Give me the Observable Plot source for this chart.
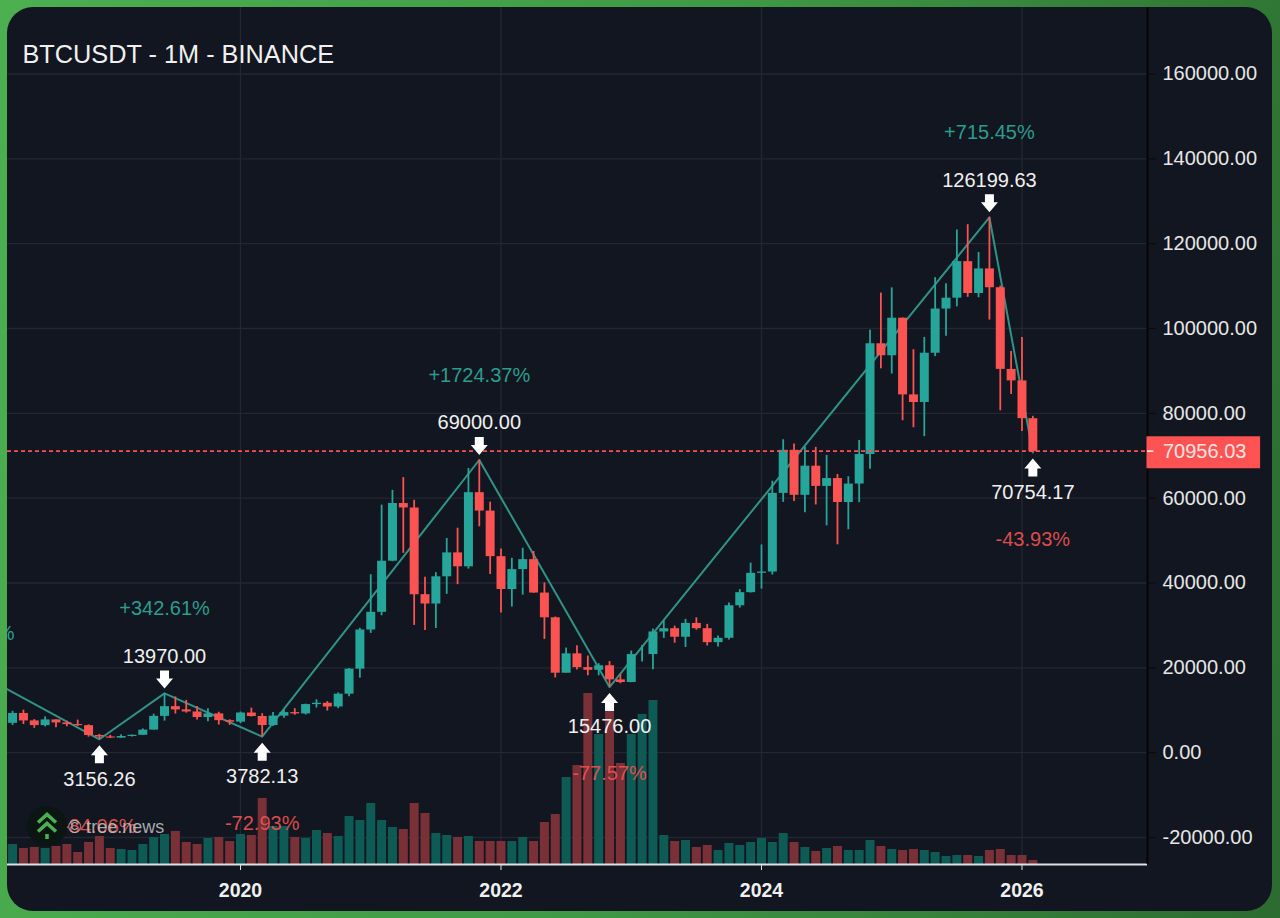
<!DOCTYPE html>
<html><head><meta charset="utf-8">
<script src="https://cdn.jsdelivr.net/npm/d3@7"></script>
<script src="https://cdn.jsdelivr.net/npm/@observablehq/plot@0.6"></script>
<style>
html,body{margin:0;padding:0;width:1280px;height:918px;overflow:hidden}
body{background:linear-gradient(100deg,#4caf50 0%,#3f9a45 50%,#2c6b30 100%);font-family:"Liberation Sans",Arial,sans-serif;position:relative}
#card{position:absolute;left:7px;top:7px;width:1265px;height:904px;border-radius:26px;background:#121620}
#title{position:absolute;left:22.5px;top:39px;line-height:30px;font-size:25.3px;color:#f0f0f0}
#mark{position:absolute;left:0;top:0}
#chart svg{position:absolute;left:0;top:0}
</style></head>
<body>
<div id="card"></div>
<div id="chart"></div>
<div id="title">BTCUSDT - 1M - BINANCE</div>
<svg id="mark" width="1280" height="918">
  <circle cx="47" cy="826" r="20" fill="#0b1512"/>
  <g fill="none" stroke="#4caf50" stroke-width="3.6">
    <path d="M38 822.5 L47 814.5 L56 822.5"/>
    <path d="M38 831.5 L47 823.5 L56 831.5"/>
  </g>
  <rect x="45.2" y="834" width="3.6" height="5" fill="#4caf50"/>
  <text x="68" y="833" font-size="18" fill="#c4c6c8" fill-opacity="0.85" font-family="Liberation Sans">© tree.news</text>
</svg>
<script>
// Monthly candles, first bar = 2018-04, last bar = 2026-02
const firstMonthIndex = -21; // months relative to 2020-01
const opens = [6922,9244,7485,6385,7727,7012,6626,6370,4041,3701,3434,3814,4103,5320,8555,10854,10085,9600,8293,9150,7546,
 7195,9352,8523,6410,8620,9448,9137,11335,11650,10776,13791,19695,
 28923,33092,45134,58739,57697,37253,35045,41461,47100,43820,61299,56950,
 46216,38466,43160,45510,37630,31801,18731,23296,20050,19422,20491,17163,
 16541,23125,23141,28465,29233,27210,30472,29232,25941,26963,34639,37724,
 42283,42580,61130,71280,60672,67540,62772,64628,58973,63327,70292,96407,
 93576,102429,84349,82550,94172,104591,107146,115764,108246,114048,109608,90360,
 87648,78741];
const highs = [9759,10020,7786,8450,7750,7410,7680,6570,4320,4069,4198,4140,5600,9074,13970,13147,12325,10905,10370,9530,7750,
 9575,10500,9188,9460,10067,10380,11444,12468,12050,14100,19863,29300,
 41950,58352,61844,64854,59500,41330,42448,50500,52920,67000,69000,59053,
 47990,45821,48189,47444,40023,31986,24668,25214,22800,20988,21480,18387,
 23960,25250,29184,31000,29820,31431,31804,30244,27483,35280,38450,44700,
 48969,64000,73777,72797,71979,71980,70079,65593,65050,73620,99588,108353,
 109588,102500,95000,97900,112000,110530,123218,124474,117900,126199,110000,94600,
 97900,79300];
const lows = [6430,6630,5750,6070,5880,6111,6200,3652,3156.26,3349,3373,3670,4096,5350,7440,9110,9320,7710,7300,6515,6435,
 6850,8410,3782.13,6150,8117,8833,8893,10525,9825,10376,13195,17572,
 28130,32296,45000,47000,30000,28805,29278,37332,39600,43283,53256,42000,
 32917,34322,37155,37578,26700,17622,18782,19520,18125,18132,15476,16256,
 16499,21351,19549,26942,25800,24800,28861,25166,24900,26538,34097,37629,
 38555,41884,59005,59191,56552,58402,53485,49000,52550,58946,66835,90500,
 89256,78258,76606,74508,93377,98200,105100,107350,107250,102000,80600,84450,
 75700,70754.17];
const closes = [9244,7485,6385,7727,7012,6626,6370,4041,3702,3434,3814,4103,5320,8555,10855,10085,9600,8293,9150,7546,7195,
 9352,8523,6410,8620,9448,9137,11335,11650,10776,13791,19695,28923,
 33092,45135,58740,57694,37254,35045,41462,47100,43824,61299,56950,46216,
 38466,43160,45510,37630,31801,18732,23296,20050,19422,20491,17163,16542,
 23125,23142,28465,29233,27210,30472,29232,25941,26963,34639,37724,42283,
 42580,61130,71280,60672,67540,62772,64628,58973,63327,70292,96407,93576,
 102429,84349,82550,94172,104591,107147,115764,108246,114048,109608,90360,87648,
 78741,70956.03];
// Volume, in relative units
const volumes = [20,16,17,16,18,20,12,22,28,16,15,14,20,27,30,33,22,20,26,27,23,
 30,29,66,38,38,27,26,34,31,28,48,44,
 61,44,37,35,61,51,31,29,27,28,23,23,
 23,23,27,23,42,50,87,99,171,130,155,101,
 130,150,164,29,23,24,17,19,14,21,19,22,
 26,22,31,22,17,13,16,18,14,14,24,18,
 15,14,15,14,12,8,9,9,8,14,15,9,
 9,4];
// Zigzag pivots
const pivotMonths = [-25,-13,-7,2,22,34,69,73];
const pivotPrices = [19798,3156.26,13970,3782.13,69000,15476,126199.63,70754.17];
const pivotPct    = ["","-84.06%","+342.61%","-72.93%","+1724.37%","-77.57%","+715.45%","-43.93%"];
const offscreenPctLabel = "+602.83%";
const offscreenPctMonth = -25;
const offscreenPctPrice = 28180;
// Axes
const priceTicks = [-20000,0,20000,40000,60000,80000,100000,120000,140000,160000];
const yearTicks = [0,24,48,72];
const yearLabels = ["2020","2022","2024","2026"];
const lastPrice = 70956.03;

const xMin = -21.467, xMax = 83.564;
const yMin = -26363, yMax = 175678;
const volPriceUnit = 235.75;

const UP="#26a69a", DOWN="#fb5252", UPV="#0e5a54", DOWNV="#7a3037", GRID="#232732";
const candles = opens.map((o,i)=>({x:firstMonthIndex+i,o,h:highs[i],l:lows[i],c:closes[i],v:volumes[i],up:closes[i]>=o}));
const pivots = pivotMonths.map((x,i)=>({x,y:pivotPrices[i],pct:pivotPct[i],high:i%2===0,label:i===0?"":String(pivotPrices[i].toFixed(2))}));
const tops = pivots.filter(p=>p.high&&p.label), bottoms = pivots.filter(p=>!p.high);

const arrow = dir => ({draw(ctx){
  const s = dir; // +1 tip on top (points up), -1 tip at bottom (points down)
  ctx.moveTo(0,0); ctx.lineTo(8.5,s*10); ctx.lineTo(4.5,s*10); ctx.lineTo(4.5,s*18);
  ctx.lineTo(-4.5,s*18); ctx.lineTo(-4.5,s*10); ctx.lineTo(-8.5,s*10); ctx.closePath();
}});

const plot = Plot.plot({
  width:1280,height:918,marginLeft:7,marginRight:133,marginTop:7,marginBottom:54,
  style:{background:"transparent",fontFamily:"Liberation Sans",overflow:"visible"},
  x:{type:"linear",domain:[xMin,xMax],axis:null},
  y:{type:"linear",domain:[yMin,yMax],axis:null},
  marks:[
    Plot.ruleY(priceTicks,{stroke:GRID,strokeWidth:1.3}),
    Plot.ruleX(yearTicks,{stroke:GRID,strokeWidth:1.3}),
    Plot.ruleX(candles,{x:"x",y1:yMin,y2:d=>yMin+d.v*volPriceUnit,stroke:d=>d.up?UPV:DOWNV,strokeWidth:9}),
    Plot.line(pivots,{x:"x",y:"y",stroke:"#2f9488",strokeWidth:2,clip:true}),
    Plot.ruleX(candles,{x:"x",y1:"l",y2:"h",stroke:d=>d.up?UP:DOWN,strokeWidth:1.8}),
    Plot.ruleX(candles,{x:"x",y1:"o",y2:"c",stroke:d=>d.up?UP:DOWN,strokeWidth:9}),
    Plot.ruleY([lastPrice],{stroke:"#fb5050",strokeWidth:1.7,strokeDasharray:"4,3",dy:-0.6}),
    Plot.dot(tops,{x:"x",y:"y",symbol:arrow(-1),dy:-5,fill:"#fff",stroke:null,r:10}),
    Plot.dot(bottoms,{x:"x",y:"y",symbol:arrow(1),dy:6,fill:"#fff",stroke:null,r:10}),
    Plot.text(tops,{x:"x",y:"y",text:"label",dy:-37,fontSize:20,fill:"#f0f0f0"}),
    Plot.text(bottoms,{x:"x",y:"y",text:"label",dy:40,fontSize:20,fill:"#f0f0f0"}),
    Plot.text(tops,{x:"x",y:"y",text:"pct",dy:-84.5,fontSize:20,fill:"#2a9d8f"}),
    Plot.text(bottoms,{x:"x",y:"y",text:"pct",dy:87,fontSize:20,fill:"#ef5350",fillOpacity:0.92}),
    Plot.text([offscreenPctLabel],{x:offscreenPctMonth,y:offscreenPctPrice,text:d=>d,fontSize:20,fill:"#2a9d8f",clip:true}),
    Plot.ruleY([yMin],{stroke:"#dfe1e4",strokeWidth:2}),
    Plot.ruleX([xMax],{stroke:"#050505",strokeWidth:2}),
    Plot.axisX({ticks:yearTicks,tickFormat:d=>yearLabels[yearTicks.indexOf(d)],anchor:"bottom",tickSize:6,tickPadding:13,fontSize:19.5,fontWeight:"bold",stroke:"#dfe1e4",fill:"#f0f0f0",label:null}),
    Plot.axisY({ticks:priceTicks,tickFormat:d=>d.toFixed(2),anchor:"right",tickSize:8,tickPadding:7,fontSize:20,stroke:"#0a0a0a",fill:"#e6e6e6",label:null}),
    Plot.rect([lastPrice],{x1:xMax-0.05,x2:xMax+10.42,y1:d=>d-4020,y2:d=>d+3520,fill:"#ff5252"}),
    Plot.ruleY([lastPrice],{x1:xMax,x2:xMax+0.6,stroke:"#f5f5f5",strokeWidth:1.5,dy:-0.6}),
    Plot.text([lastPrice],{x:xMax,y:d=>d,text:d=>d.toFixed(2),dx:15.5,textAnchor:"start",fontSize:20,fill:"#fbe3e3"})
  ]
});
document.getElementById("chart").appendChild(plot);
</script>
</body></html>
